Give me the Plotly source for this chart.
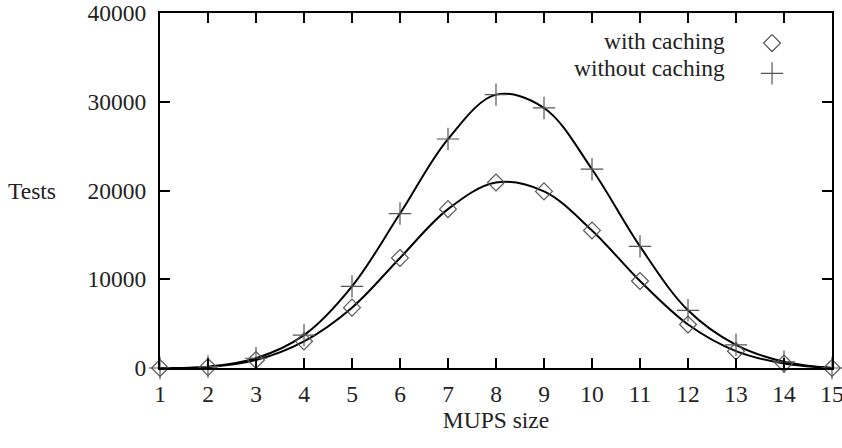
import plotly.graph_objects as go

mups_size = list(range(1, 16))
with_caching = [0, 100, 900, 3000, 6800, 12400, 17900, 20900, 19900, 15500, 9800, 4900, 1900, 500, 0]
without_caching = [0, 150, 1100, 3700, 9200, 17400, 25800, 30800, 29300, 22400, 13700, 6500, 2600, 700, 0]
legend_labels = ["with caching", "without caching"]
y_ticks = [0, 10000, 20000, 30000, 40000]

FONT = "Liberation Serif, Times New Roman, serif"
MARK = "#555555"
FS = 23.5

fig = go.Figure()
fig.add_trace(go.Scatter(x=mups_size, y=with_caching, mode="lines", line=dict(color="black", width=2, shape="spline"),
                         showlegend=False, hoverinfo="skip", cliponaxis=False))
fig.add_trace(go.Scatter(x=mups_size, y=without_caching, mode="lines", line=dict(color="black", width=2, shape="spline"),
                         showlegend=False, hoverinfo="skip", cliponaxis=False))
fig.add_trace(go.Scatter(x=mups_size, y=with_caching, mode="markers", name=" ",
                         marker=dict(symbol="diamond-open", size=13, color=MARK, line=dict(width=1.2, color=MARK)),
                         cliponaxis=False))
fig.add_trace(go.Scatter(x=mups_size, y=without_caching, mode="markers", name="  ",
                         marker=dict(symbol="cross-thin-open", size=16, color=MARK, line=dict(width=1.2, color=MARK)),
                         cliponaxis=False))

axis_common = dict(showgrid=False, zeroline=False, showline=True, linecolor="black", linewidth=2,
                   ticks="inside", ticklen=10, tickwidth=2, tickcolor="black", mirror="allticks",
                   automargin=False, ticklabeloverflow="allow",
                   tickfont=dict(family=FONT, size=FS, color="#222"))

fig.update_xaxes(range=[1, 15], tickmode="array", tickvals=mups_size, ticktext=[str(v) for v in mups_size],
                 ticklabelstandoff=4,
                 title=dict(text="MUPS size", font=dict(family=FONT, size=FS, color="#222"), standoff=0),
                 **axis_common)
fig.update_yaxes(range=[0, 40000], tickmode="array", tickvals=y_ticks, ticktext=[str(v) for v in y_ticks],
                 ticklabelstandoff=7, **axis_common)

fig.add_annotation(text="Tests", xref="paper", yref="paper", x=-0.152, y=0.5, xanchor="right", yanchor="middle",
                   showarrow=False, font=dict(family=FONT, size=FS, color="#222"))
for lbl, yy in zip(legend_labels, [0.921, 0.845]):
    fig.add_annotation(text=lbl, xref="paper", yref="paper", x=0.8438, y=yy, xanchor="right", yanchor="middle",
                       showarrow=False, font=dict(family=FONT, size=FS, color="#222"))

fig.update_layout(
    width=842, height=448,
    margin=dict(l=160, r=10, t=13, b=80),
    plot_bgcolor="white", paper_bgcolor="white",
    font=dict(family=FONT, size=FS, color="#222"),
    legend=dict(x=0.881, y=0.972, xanchor="left", yanchor="top", bgcolor="rgba(0,0,0,0)",
                itemwidth=30, tracegroupgap=0, font=dict(size=21)),
)

fig.write_html("out.html", config={"displayModeBar": False},
               post_script="document.body.style.margin='0';")
